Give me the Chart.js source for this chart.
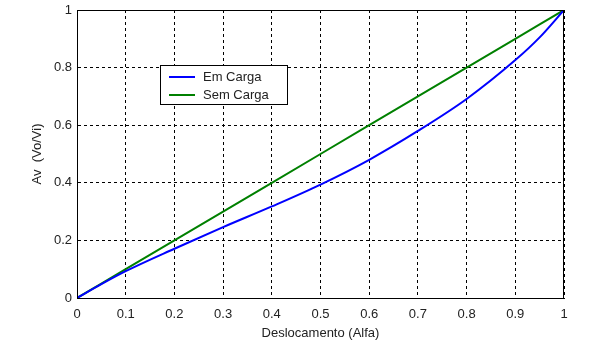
<!DOCTYPE html>
<html>
<head>
<meta charset="utf-8">
<script src="https://cdn.jsdelivr.net/npm/chart.js@4"></script>
<style>
  html, body { margin: 0; padding: 0; background: #fff; }
  #wrap { width: 596px; height: 348px; }
</style>
</head>
<body>
<div id="wrap"><canvas id="chart" width="596" height="348"></canvas></div>
<script>
// values
const alfa = [0, 0.05, 0.1, 0.2, 0.3, 0.4, 0.5, 0.6, 0.7, 0.8, 0.9, 0.95, 1];
const emCarga = [0, 0.048, 0.093, 0.171, 0.246, 0.318, 0.394, 0.48, 0.58, 0.691, 0.826, 0.905, 1];
const semCarga = [0, 0.05, 0.1, 0.2, 0.3, 0.4, 0.5, 0.6, 0.7, 0.8, 0.9, 0.95, 1];

const xTickLabels = ["0", "0.1", "0.2", "0.3", "0.4", "0.5", "0.6", "0.7", "0.8", "0.9", "1"];
const yTickLabels = ["0", "0.2", "0.4", "0.6", "0.8", "1"];

const FONT = "'Liberation Sans', Arial, sans-serif";
const TEXT = "#222";

// box round the plot + legend inside the axes (MATLAB style)
const boxAndLegend = {
  id: "boxAndLegend",
  afterDraw(chart) {
    const { ctx, chartArea } = chart;
    ctx.save();
    ctx.strokeStyle = "#000";
    ctx.lineWidth = 1;
    ctx.setLineDash([]);
    ctx.strokeRect(chartArea.left + 0.5, chartArea.top + 0.5,
      chartArea.right - chartArea.left - 1, chartArea.bottom - chartArea.top);

    // legend
    const lx = 160, ly = 65, lw = 127, lh = 39;
    ctx.fillStyle = "#fff";
    ctx.fillRect(lx, ly, lw, lh);
    ctx.strokeRect(lx + 0.5, ly + 0.5, lw, lh);
    ctx.font = "13px " + FONT;
    ctx.textBaseline = "middle";
    chart.data.datasets.forEach((ds, i) => {
      const y = ly + 12 + i * 18;
      ctx.strokeStyle = ds.borderColor;
      ctx.lineWidth = 2;
      ctx.beginPath();
      ctx.moveTo(lx + 9, y);
      ctx.lineTo(lx + 35, y);
      ctx.stroke();
      ctx.fillStyle = TEXT;
      ctx.fillText(ds.label, lx + 43, y);
    });
    ctx.restore();
  }
};

new Chart(document.getElementById("chart"), {
  type: "line",
  data: {
    datasets: [
      {
        label: "Em Carga",
        data: alfa.map((a, i) => ({ x: a, y: emCarga[i] })),
        borderColor: "#0000ff",
        borderWidth: 2,
        pointRadius: 0,
        cubicInterpolationMode: "monotone",
        fill: false
      },
      {
        label: "Sem Carga",
        data: alfa.map((a, i) => ({ x: a, y: semCarga[i] })),
        borderColor: "#008000",
        borderWidth: 2,
        pointRadius: 0,
        fill: false
      }
    ]
  },
  options: {
    responsive: false,
    animation: false,
    layout: { padding: { top: 10, right: 32, left: 0, bottom: 0 } },
    plugins: {
      legend: { display: false },
      tooltip: { enabled: false }
    },
    scales: {
      x: {
        type: "linear",
        min: 0,
        max: 1,
        afterFit: (scale) => { scale.height = 50; },
        ticks: {
          stepSize: 0.1,
          padding: 9,
          color: TEXT,
          font: { family: FONT, size: 13 },
          maxRotation: 0,
          callback: (v, i) => xTickLabels[i]
        },
        grid: { color: "#000", lineWidth: 1, drawTicks: false },
        border: { color: "#000", dash: [3, 3] },
        title: {
          display: true,
          text: "Deslocamento (Alfa)",
          color: TEXT,
          font: { family: FONT, size: 13 },
          padding: { top: 0, bottom: 7 }
        }
      },
      y: {
        type: "linear",
        min: 0,
        max: 1,
        afterFit: (scale) => { scale.width = 77; scale.paddingTop = 0; },
        ticks: {
          stepSize: 0.2,
          padding: 5,
          color: TEXT,
          font: { family: FONT, size: 13 },
          callback: (v, i) => yTickLabels[i]
        },
        grid: { color: "#000", lineWidth: 1, drawTicks: false },
        border: { color: "#000", dash: [3, 3] },
        title: {
          display: true,
          text: "Av  (Vo/Vi)",
          color: TEXT,
          font: { family: FONT, size: 13 },
          padding: { top: 30, bottom: 0 }
        }
      }
    }
  },
  plugins: [boxAndLegend]
});
</script>
</body>
</html>
